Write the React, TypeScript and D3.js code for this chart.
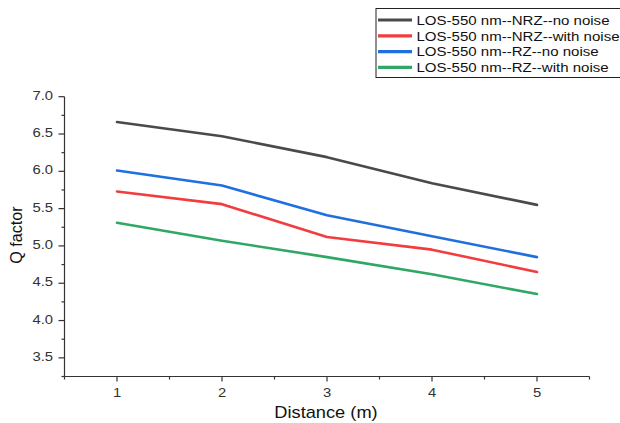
import React from "react";
import * as d3 from "d3";

const distances = [1, 2, 3, 4, 5];
const nrzNoNoise = [6.66, 6.47, 6.19, 5.84, 5.55];
const nrzWithNoise = [5.73, 5.56, 5.12, 4.95, 4.65];
const rzNoNoise = [6.01, 5.81, 5.41, 5.13, 4.85];
const rzWithNoise = [5.31, 5.07, 4.85, 4.62, 4.355];
const seriesNames = [
  "LOS-550 nm--NRZ--no noise",
  "LOS-550 nm--NRZ--with noise",
  "LOS-550 nm--RZ--no noise",
  "LOS-550 nm--RZ--with noise",
];
const seriesValues = [nrzNoNoise, nrzWithNoise, rzNoNoise, rzWithNoise];
const seriesColors = ["#4a4a4a", "#f23c3e", "#1f6fe0", "#2fa866"];
const xTicks = [1, 2, 3, 4, 5];
const yTicks = [3.5, 4.0, 4.5, 5.0, 5.5, 6.0, 6.5, 7.0];
const xLabel = "Distance (m)";
const yLabel = "Q factor";

const W = 620;
const H = 423;
const SX = 1.14;
const FONT = "Arial, 'Liberation Sans', sans-serif";
const AX = "#333";

export default function App() {
  const x = d3.scaleLinear().domain([0.5, 5.5]).range([64.5, 589.5]);
  const y = d3.scaleLinear().domain([3.25, 7.0]).range([376.5, 96.7]);
  const line = d3
    .line<number>()
    .x((_, i) => x(distances[i]))
    .y((d) => y(d));

  const xMinor = d3.range(0.5, 5.51, 0.5).filter((v) => !xTicks.includes(v));
  const yMinor = d3.range(3.25, 7.0, 0.25).filter((v) => !yTicks.some((t) => Math.abs(t - v) < 1e-6));

  const x0 = x(0.5);
  const y0 = y(3.25);

  const stretched = (tx: number, ty: number, content: React.ReactNode, s: number = SX) => (
    <g transform={`translate(${tx},${ty}) scale(${s},1)`}>{content}</g>
  );

  const legendTop = 8.5;
  const legendRow = 15.8;

  return (
    <svg
      width={W}
      height={H}
      style={{ position: "absolute", left: 0, top: 0, background: "#fff" }}
      fontFamily={FONT}
    >
      <rect x={0} y={0} width={W} height={H} fill="#fff" />
      {/* axes */}
      <line x1={x0} x2={x(5.5)} y1={y0} y2={y0} stroke={AX} strokeWidth={1.2} />
      <line x1={x0} x2={x0} y1={y0} y2={y(7.0)} stroke={AX} strokeWidth={1.2} />
      {xTicks.map((t) => (
        <g key={"xt" + t}>
          <line x1={x(t)} x2={x(t)} y1={y0} y2={y0 + 5} stroke={AX} strokeWidth={1.2} />
          {stretched(
            x(t),
            397,
            <text textAnchor="middle" fontSize={13} fill={AX}>
              {t}
            </text>
          )}
        </g>
      ))}
      {xMinor.map((t) => (
        <line key={"xm" + t} x1={x(t)} x2={x(t)} y1={y0} y2={y0 + 3} stroke={AX} strokeWidth={1.2} />
      ))}
      {yTicks.map((t) => (
        <g key={"yt" + t}>
          <line x1={x0} x2={x0 - 6} y1={y(t)} y2={y(t)} stroke={AX} strokeWidth={1.2} />
          {stretched(
            53,
            y(t) + 3,
            <text textAnchor="end" fontSize={13} fill={AX}>
              {t.toFixed(1)}
            </text>
          )}
        </g>
      ))}
      {yMinor.map((t) => (
        <line key={"ym" + t} x1={x0} x2={x0 - 3} y1={y(t)} y2={y(t)} stroke={AX} strokeWidth={1.2} />
      ))}
      {/* axis titles */}
      {stretched(
        (x(1) + x(5)) / 2 - 1,
        418,
        <text textAnchor="middle" fontSize={16} fill="#111">
          {xLabel}
        </text>
      )}
      <g transform={`translate(21.5,235) rotate(-90) scale(0.95,1)`}>
        <text textAnchor="middle" fontSize={17} fill="#111">
          {yLabel}
        </text>
      </g>
      {/* series */}
      {seriesValues.map((vals, i) => (
        <path
          key={"s" + i}
          d={line(vals) || ""}
          fill="none"
          stroke={seriesColors[i]}
          strokeWidth={2.6}
          strokeLinejoin="round"
          strokeLinecap="round"
        />
      ))}
      {/* legend */}
      <rect x={376} y={legendTop} width={260} height={69} fill="#fff" stroke="#222" strokeWidth={1} />
      {seriesNames.map((name, i) => {
        const cy = legendTop + 11.5 + i * legendRow;
        return (
          <g key={"lg" + i}>
            <line x1={378} x2={412} y1={cy} y2={cy} stroke={seriesColors[i]} strokeWidth={3.2} />
            {stretched(
              416.5,
              cy + 4.8,
              <text fontSize={13.2} fill="#111">
                {name}
              </text>,
              1.14
            )}
          </g>
        );
      })}
    </svg>
  );
}
